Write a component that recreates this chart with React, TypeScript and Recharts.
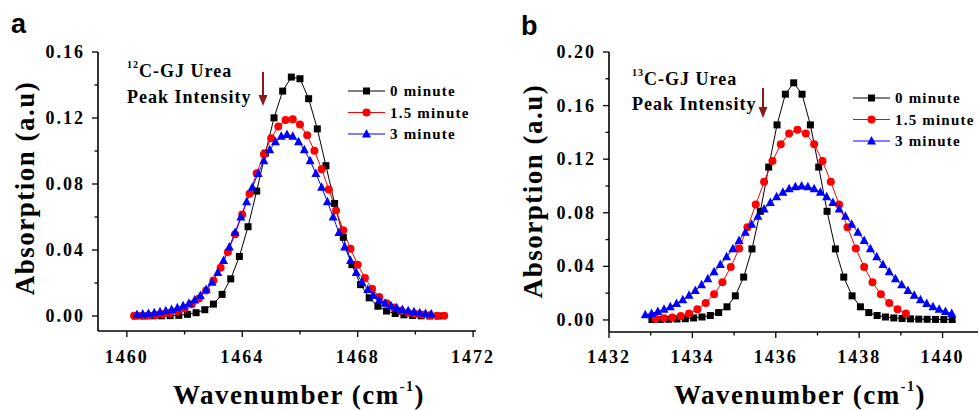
import { Legend, Line, LineChart, XAxis, YAxis } from "recharts";

// panel a: 12C urea band, [wavenumber, absorption]
const a0min: [number, number][] = [
  [1460.3, 0.0], [1460.6, 0.0], [1460.9, 0.0001], [1461.2, 0.0001], [1461.5, 0.0002],
  [1461.8, 0.0004], [1462.1, 0.001], [1462.4, 0.002], [1462.7, 0.0038], [1463.0, 0.0072],
  [1463.3, 0.0131], [1463.6, 0.0225], [1463.9, 0.0361], [1464.2, 0.0541], [1464.5, 0.0757],
  [1464.8, 0.0987], [1465.1, 0.1201], [1465.4, 0.1363], [1465.7, 0.1448], [1466.0, 0.1438],
  [1466.3, 0.1317], [1466.6, 0.1134], [1466.9, 0.0911], [1467.2, 0.0682], [1467.5, 0.0477],
  [1467.8, 0.0311], [1468.1, 0.019], [1468.4, 0.011], [1468.7, 0.0059], [1469.0, 0.003],
  [1469.3, 0.0015], [1469.6, 0.0007], [1469.9, 0.0003], [1470.2, 0.0001], [1470.5, 0.0],
  [1470.8, 0.0],
];
const a15min: [number, number][] = [
  [1460.25, 0.0001], [1460.5, 0.0002], [1460.75, 0.0003], [1461.0, 0.0006], [1461.25, 0.0011],
  [1461.5, 0.0018], [1461.75, 0.0029], [1462.0, 0.0046], [1462.25, 0.0071], [1462.5, 0.0106],
  [1462.75, 0.0154], [1463.0, 0.0215], [1463.25, 0.0293], [1463.5, 0.0387], [1463.75, 0.0496],
  [1464.0, 0.0615], [1464.25, 0.0741], [1464.5, 0.0865], [1464.75, 0.0981], [1465.0, 0.1078],
  [1465.25, 0.1149], [1465.5, 0.1188], [1465.75, 0.1192], [1466.0, 0.116], [1466.25, 0.1095],
  [1466.5, 0.1002], [1466.75, 0.089], [1467.0, 0.0766], [1467.25, 0.064], [1467.5, 0.0519],
  [1467.75, 0.0407], [1468.0, 0.0311], [1468.25, 0.023], [1468.5, 0.0165], [1468.75, 0.0115],
  [1469.0, 0.0077], [1469.25, 0.0051], [1469.5, 0.0032], [1469.75, 0.002], [1470.0, 0.0012],
  [1470.25, 0.0007], [1470.5, 0.0004], [1470.75, 0.0002], [1471.0, 0.0001],
];
const a3min: [number, number][] = [
  [1460.35, 0.0009], [1460.55, 0.0012], [1460.75, 0.0015], [1460.95, 0.002], [1461.15, 0.0025],
  [1461.35, 0.0032], [1461.55, 0.004], [1461.75, 0.005], [1461.95, 0.0062], [1462.15, 0.0077],
  [1462.35, 0.0097], [1462.55, 0.0124], [1462.75, 0.016], [1462.95, 0.0204], [1463.15, 0.0264],
  [1463.35, 0.0336], [1463.55, 0.0418], [1463.75, 0.0506], [1463.95, 0.06], [1464.15, 0.0693],
  [1464.35, 0.0781], [1464.55, 0.0864], [1464.75, 0.0941], [1464.95, 0.1007], [1465.15, 0.1056],
  [1465.35, 0.1089], [1465.55, 0.11], [1465.75, 0.1089], [1465.95, 0.1056], [1466.15, 0.1007],
  [1466.35, 0.0941], [1466.55, 0.0864], [1466.75, 0.0781], [1466.95, 0.0693], [1467.15, 0.06],
  [1467.35, 0.0506], [1467.55, 0.0418], [1467.75, 0.0336], [1467.95, 0.0264], [1468.15, 0.0204],
  [1468.35, 0.016], [1468.55, 0.0124], [1468.75, 0.0097], [1468.95, 0.0077], [1469.15, 0.0062],
  [1469.35, 0.005], [1469.55, 0.004], [1469.75, 0.0032], [1469.95, 0.0025], [1470.15, 0.002],
  [1470.35, 0.0015], [1470.55, 0.0012],
];

// panel b: 13C urea band
const b0min: [number, number][] = [
  [1433.03, 0.0003], [1433.23, 0.0004], [1433.43, 0.0005], [1433.63, 0.0007], [1433.83, 0.0009],
  [1434.03, 0.0015], [1434.23, 0.0022], [1434.43, 0.0033], [1434.63, 0.0055], [1434.83, 0.0098],
  [1435.03, 0.018], [1435.23, 0.032], [1435.43, 0.053], [1435.63, 0.0811], [1435.83, 0.1141],
  [1436.03, 0.1456], [1436.23, 0.1685], [1436.43, 0.177], [1436.63, 0.1685], [1436.83, 0.1456],
  [1437.03, 0.1141], [1437.23, 0.0811], [1437.43, 0.053], [1437.63, 0.032], [1437.83, 0.018],
  [1438.03, 0.0098], [1438.23, 0.0055], [1438.43, 0.0033], [1438.63, 0.0022], [1438.83, 0.0015],
  [1439.03, 0.0011], [1439.23, 0.0008], [1439.43, 0.0006], [1439.63, 0.0005], [1439.83, 0.0004],
  [1440.03, 0.0003], [1440.23, 0.0003],
];
const b15min: [number, number][] = [
  [1433.12, 0.0008], [1433.32, 0.0012], [1433.52, 0.0019], [1433.72, 0.003], [1433.92, 0.0048],
  [1434.12, 0.008], [1434.32, 0.0126], [1434.52, 0.0192], [1434.72, 0.0281], [1434.92, 0.0395],
  [1435.12, 0.0533], [1435.32, 0.0691], [1435.52, 0.0861], [1435.72, 0.1031], [1435.92, 0.1186],
  [1436.12, 0.1311], [1436.32, 0.1392], [1436.52, 0.142], [1436.72, 0.1392], [1436.92, 0.1311],
  [1437.12, 0.1186], [1437.32, 0.1031], [1437.52, 0.0861], [1437.72, 0.0691], [1437.92, 0.0533],
  [1438.12, 0.0395], [1438.32, 0.0281], [1438.52, 0.0192], [1438.72, 0.0126], [1438.92, 0.008],
  [1439.12, 0.0048],
];
const b3min: [number, number][] = [
  [1432.87, 0.0038], [1433.02, 0.0049], [1433.17, 0.0063], [1433.32, 0.0079], [1433.47, 0.0099],
  [1433.62, 0.0123], [1433.77, 0.0151], [1433.92, 0.0184], [1434.07, 0.022], [1434.22, 0.0262],
  [1434.37, 0.0308], [1434.52, 0.0359], [1434.67, 0.0413], [1434.82, 0.0471], [1434.97, 0.0531],
  [1435.12, 0.0593], [1435.27, 0.0655], [1435.42, 0.0715], [1435.57, 0.0774], [1435.72, 0.0828],
  [1435.87, 0.0877], [1436.02, 0.092], [1436.17, 0.0954], [1436.32, 0.0979], [1436.47, 0.0995],
  [1436.62, 0.1], [1436.77, 0.0995], [1436.92, 0.0979], [1437.07, 0.0954], [1437.22, 0.092],
  [1437.37, 0.0877], [1437.52, 0.0828], [1437.67, 0.0774], [1437.82, 0.0715], [1437.97, 0.0655],
  [1438.12, 0.0593], [1438.27, 0.0531], [1438.42, 0.0471], [1438.57, 0.0413], [1438.72, 0.0359],
  [1438.87, 0.0308], [1439.02, 0.0262], [1439.17, 0.022], [1439.32, 0.0184], [1439.47, 0.0151],
  [1439.62, 0.0123], [1439.77, 0.0099], [1439.92, 0.0079], [1440.07, 0.0063], [1440.22, 0.0049],
];

const seriesNames = ["0 minute", "1.5 minute", "3 minute"];

const aTicksX = [1460, 1462, 1464, 1466, 1468, 1470, 1472];
const aLabelsX = [1460, 1464, 1468, 1472];
const aTicksY = [0, 0.02, 0.04, 0.06, 0.08, 0.1, 0.12, 0.14, 0.16];
const aLabelsY = [0, 0.04, 0.08, 0.12, 0.16];

const bTicksX = [1432, 1433, 1434, 1435, 1436, 1437, 1438, 1439, 1440];
const bLabelsX = [1432, 1434, 1436, 1438, 1440];
const bTicksY = [0, 0.02, 0.04, 0.06, 0.08, 0.1, 0.12, 0.14, 0.16, 0.18, 0.2];
const bLabelsY = [0, 0.04, 0.08, 0.12, 0.16, 0.2];

const serif = '"Liberation Serif", "Times New Roman", serif';
const sans = '"Liberation Sans", Arial, sans-serif';
const axisLine = { stroke: "#000", strokeWidth: 1.6 };

const toRows = (pts: [number, number][]) => pts.map(([x, y]) => ({ x, y }));

function makeXTick(labels: number[], dy: number) {
  return (props: any) => {
    const { x, y, payload, index } = props;
    const major = labels.includes(payload.value);
    return (
      <g key={`xt-${index}`}>
        <line x1={x} y1={y} x2={x} y2={y + (major ? 6 : 3.5)} stroke="#000" strokeWidth={1.3} />
        {major && (
          <text x={x} y={y + dy} textAnchor="middle" fontFamily={serif} fontWeight="bold" fontSize={18} letterSpacing={2} fill="#000">
            {payload.value}
          </text>
        )}
      </g>
    );
  };
}

function makeYTick(labels: number[]) {
  return (props: any) => {
    const { x, y, payload, index } = props;
    const major = labels.includes(payload.value);
    return (
      <g key={`yt-${index}`}>
        <line x1={x} y1={y} x2={x - (major ? 6 : 3.5)} y2={y} stroke="#000" strokeWidth={1.3} />
        {major && (
          <text x={x - 13} y={y + 6} textAnchor="end" fontFamily={serif} fontWeight="bold" fontSize={18} letterSpacing={2} fill="#000">
            {payload.value.toFixed(2)}
          </text>
        )}
      </g>
    );
  };
}

const squareDot = (p: any) =>
  p.cx == null ? <g key={`sq-${p.index}`} /> : (
    <rect key={`sq-${p.index}`} x={p.cx - 3.5} y={p.cy - 3.5} width={7} height={7} fill="#000" />
  );
const triangleDot = (p: any) =>
  p.cx == null ? <g key={`tr-${p.index}`} /> : (
    <polygon
      key={`tr-${p.index}`}
      points={`${p.cx},${p.cy - 5} ${p.cx - 4.5},${p.cy + 3.5} ${p.cx + 4.5},${p.cy + 3.5}`}
      fill="#0000ff"
    />
  );
const circleDot = { r: 4, fill: "#ff0000", stroke: "#ff0000", strokeWidth: 0 };

function LegendBox(props: any) {
  const items = props.payload || [];
  return (
    <svg width={140} height={64}>
      {items.map((it: any, i: number) => {
        const cy = 9 + i * 21.5;
        const c = it.color;
        return (
          <g key={it.value}>
            <line x1={3} y1={cy} x2={40} y2={cy} stroke={c} strokeWidth={1.2} />
            {i === 0 && <rect x={18} y={cy - 3.5} width={7} height={7} fill={c} />}
            {i === 1 && <circle cx={21.5} cy={cy} r={4} fill={c} />}
            {i === 2 && <polygon points={`21.5,${cy - 5} 17,${cy + 3.5} 26,${cy + 3.5}`} fill={c} />}
            <text x={45} y={cy + 5} fontFamily={serif} fontWeight="bold" fontSize={15} letterSpacing={1.2} fill="#000">
              {it.value}
            </text>
          </g>
        );
      })}
    </svg>
  );
}

type PanelProps = {
  width: number;
  marginRight: number;
  yAxisWidth: number;
  xAxisHeight: number;
  xDomain: [number, number];
  yDomain: [number, number];
  ticksX: number[];
  labelsX: number[];
  ticksY: number[];
  labelsY: number[];
  labelDy: number;
  legendPos: { left: number; top: number };
  series: [number, number][][];
};

function Panel(p: PanelProps) {
  const colors = ["#000000", "#ff0000", "#0000ff"];
  const dots = [squareDot, circleDot, triangleDot];
  return (
    <LineChart width={p.width} height={410} margin={{ top: 52, right: p.marginRight, bottom: 0, left: 0 }}>
      <XAxis
        dataKey="x"
        type="number"
        domain={p.xDomain}
        allowDataOverflow
        ticks={p.ticksX}
        interval={0}
        tickSize={0}
        tickMargin={0}
        tickLine={false}
        tick={makeXTick(p.labelsX, p.labelDy)}
        axisLine={axisLine}
        height={p.xAxisHeight}
      />
      <XAxis xAxisId="top" orientation="top" type="number" domain={p.xDomain} allowDataOverflow height={0} tick={false} tickLine={false} axisLine={axisLine} />
      <YAxis
        type="number"
        domain={p.yDomain}
        allowDataOverflow
        ticks={p.ticksY}
        interval={0}
        tickSize={0}
        tickMargin={0}
        tickLine={false}
        tick={makeYTick(p.labelsY)}
        axisLine={axisLine}
        width={p.yAxisWidth}
      />
      <YAxis yAxisId="right" orientation="right" type="number" domain={p.yDomain} allowDataOverflow width={0} tick={false} tickLine={false} axisLine={axisLine} />
      {p.series.map((s, i) => (
        <Line
          key={seriesNames[i]}
          name={seriesNames[i]}
          data={toRows(s)}
          dataKey="y"
          stroke={colors[i]}
          strokeWidth={1}
          dot={dots[i] as any}
          activeDot={false}
          isAnimationActive={false}
        />
      ))}
      <Legend
        layout="horizontal"
        verticalAlign="middle"
        align="center"
        content={LegendBox}
        wrapperStyle={{ left: p.legendPos.left, top: p.legendPos.top, width: 140, height: 64 }}
      />
    </LineChart>
  );
}

function Overlay() {
  const bold = { fontFamily: serif, fontWeight: "bold" as const, fill: "#000" };
  const arrow = "#8b1a1a";
  return (
    <svg width={979} height={410} style={{ position: "absolute", left: 0, top: 0, pointerEvents: "none" }}>
      <text x={11} y={33} fontFamily={sans} fontWeight="bold" fontSize={27}>a</text>
      <text x={521} y={35} fontFamily={sans} fontWeight="bold" fontSize={27}>b</text>

      <text {...bold} fontSize={27} letterSpacing={1.5} textAnchor="middle" dominantBaseline="central" transform="translate(25,188) rotate(-90)">
        Absorption (a.u)
      </text>
      <text {...bold} fontSize={27} letterSpacing={1.5} textAnchor="middle" dominantBaseline="central" transform="translate(533,191) rotate(-90)">
        Absorption (a.u)
      </text>

      <text {...bold} x={299} y={404} fontSize={27} letterSpacing={1.5} textAnchor="middle">
        Wavenumber (cm<tspan fontSize={14} dy={-13}>-1</tspan><tspan dy={13}>)</tspan>
      </text>
      <text {...bold} x={800} y={404} fontSize={27} letterSpacing={1.5} textAnchor="middle">
        Wavenumber (cm<tspan fontSize={14} dy={-13}>-1</tspan><tspan dy={13}>)</tspan>
      </text>

      <text {...bold} x={127} y={77} fontSize={18} letterSpacing={1}>
        <tspan fontSize={10} dy={-9}>12</tspan><tspan dy={9}>C-GJ Urea</tspan>
      </text>
      <text {...bold} x={127} y={103} fontSize={18} letterSpacing={1}>Peak Intensity</text>
      <line x1={263} y1={72} x2={263} y2={97} stroke={arrow} strokeWidth={2} />
      <polygon points="258.5,95 267.5,95 263,106" fill={arrow} />

      <text {...bold} x={632} y={85} fontSize={18} letterSpacing={1}>
        <tspan fontSize={10} dy={-9}>13</tspan><tspan dy={9}>C-GJ Urea</tspan>
      </text>
      <text {...bold} x={632} y={110} fontSize={18} letterSpacing={1}>Peak Intensity</text>
      <line x1={763} y1={88} x2={763} y2={109} stroke={arrow} strokeWidth={2} />
      <polygon points="758.5,107 767.5,107 763,118" fill={arrow} />
    </svg>
  );
}

export default function App() {
  return (
    <div style={{ position: "absolute", left: 0, top: 0, width: 979, height: 410, background: "#fff", overflow: "hidden" }}>
      <div style={{ position: "absolute", left: 0, top: 0 }}>
        <Panel
          width={520}
          marginRight={44}
          yAxisWidth={98}
          xAxisHeight={79}
          xDomain={[1459, 1472.1]}
          yDomain={[-0.0091, 0.16]}
          ticksX={aTicksX}
          labelsX={aLabelsX}
          ticksY={aTicksY}
          labelsY={aLabelsY}
          labelDy={32}
          legendPos={{ left: 345, top: 82 }}
          series={[a0min, a15min, a3min]}
        />
      </div>
      <div style={{ position: "absolute", left: 489, top: 0 }}>
        <Panel
          width={490}
          marginRight={1}
          yAxisWidth={120}
          xAxisHeight={78}
          xDomain={[1432, 1440.85]}
          yDomain={[-0.009, 0.2]}
          ticksX={bTicksX}
          labelsX={bLabelsX}
          ticksY={bTicksY}
          labelsY={bLabelsY}
          labelDy={31}
          legendPos={{ left: 361, top: 89 }}
          series={[b0min, b15min, b3min]}
        />
      </div>
      <Overlay />
    </div>
  );
}
